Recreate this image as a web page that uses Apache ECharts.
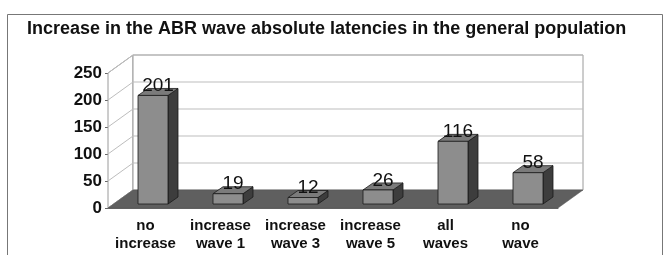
<!DOCTYPE html>
<html>
<head>
<meta charset="utf-8">
<script src="https://cdn.jsdelivr.net/npm/echarts@6/dist/echarts.min.js"></script>
<style>
  html, body { margin: 0; padding: 0; background: #fff; }
  #chart { width: 671px; height: 255px; }
</style>
</head>
<body>
<div id="chart"></div>
<script>
  // data
  var categories = ['no\nincrease', 'increase\nwave 1', 'increase\nwave 3', 'increase\nwave 5', 'all\nwaves', 'no\nwave'];
  var counts = [201, 19, 12, 26, 116, 58];
  var yTicks = [0, 50, 100, 150, 200, 250];

  // fake 3d depth
  var WALL = { x: 25, y: -18 };
  var BAR_OFF = { x: 7.5, y: -4 };
  var BAR_DEPTH = { x: 10, y: -7 };

  var chart = echarts.init(document.getElementById('chart'));

  function wallItem(params, api) {
    var cs = params.coordSys;
    var left = cs.x, right = cs.x + cs.width;
    var y = api.coord([0, api.value(1)])[1];
    var kids = [];
    if (params.dataIndex === 0) {
      var yTop = api.coord([0, yTicks[yTicks.length - 1]])[1];
      // side wall + back wall background
      kids.push({
        type: 'polygon',
        shape: { points: [[left, y], [left, yTop], [left + WALL.x, yTop + WALL.y], [left + WALL.x, y + WALL.y]] },
        style: { fill: '#fff', stroke: '#9a9a9a', lineWidth: 1 }
      });
      kids.push({
        type: 'rect',
        shape: { x: left + WALL.x, y: yTop + WALL.y, width: cs.width, height: y - yTop },
        style: { fill: '#fff', stroke: '#9a9a9a', lineWidth: 1 }
      });
    }
    kids.push({
      type: 'polyline',
      shape: { points: [[left, y], [left + WALL.x, y + WALL.y], [right + WALL.x, y + WALL.y]] },
      style: { fill: 'none', stroke: '#bdbdbd', lineWidth: 1 }
    });
    return { type: 'group', children: kids };
  }

  function floorItem(params, api) {
    var cs = params.coordSys;
    var left = cs.x, right = cs.x + cs.width;
    var y = api.coord([0, 0])[1];
    return {
      type: 'polygon',
      shape: { points: [[left, y], [right, y], [right + WALL.x, y + WALL.y], [left + WALL.x, y + WALL.y]] },
      style: { fill: '#5f5f5f', stroke: '#555', lineWidth: 0.5 }
    };
  }

  function barItem(params, api) {
    var i = api.value(0), v = api.value(1);
    var top = api.coord([i, v]);
    var base = api.coord([i, 0]);
    var w = api.size([1, 0])[0] * 0.4;
    var x0 = top[0] - w / 2 + BAR_OFF.x, x1 = x0 + w;
    var yt = top[1] + BAR_OFF.y, yb = base[1] + BAR_OFF.y;
    var dx = BAR_DEPTH.x, dy = BAR_DEPTH.y;
    var edge = { stroke: '#1a1a1a', lineWidth: 0.8 };
    return {
      type: 'group',
      children: [
        { type: 'polygon', shape: { points: [[x1, yt], [x1 + dx, yt + dy], [x1 + dx, yb + dy], [x1, yb]] },
          style: Object.assign({ fill: '#3d3d3d' }, edge) },
        { type: 'polygon', shape: { points: [[x0, yt], [x0 + dx, yt + dy], [x1 + dx, yt + dy], [x1, yt]] },
          style: Object.assign({ fill: '#7b7b7b' }, edge) },
        { type: 'rect', shape: { x: x0, y: yt, width: w, height: yb - yt },
          style: Object.assign({ fill: '#8d8d8d' }, edge) },
        { type: 'text', x: (x0 + x1) / 2 + dx / 2, y: yt,
          style: { text: String(v), fill: '#111', font: '19px "Liberation Sans", Arial, sans-serif',
                   align: 'center', verticalAlign: 'bottom' } }
      ]
    };
  }

  chart.setOption({
    backgroundColor: '#fff',
    animation: false,
    title: {
      text: 'Increase in the ABR wave absolute latencies in the general population',
      left: 22,
      top: 15,
      textStyle: { fontFamily: '"Liberation Sans", Arial', fontSize: 18, fontWeight: 'bold', color: '#111' }
    },
    graphic: [{
      type: 'rect',
      shape: { x: 7.5, y: 14.5, width: 655, height: 260 },
      style: { fill: 'none', stroke: '#777', lineWidth: 1 },
      z: 0
    }],
    grid: { left: 108, right: 113, top: 73, bottom: 47 },
    xAxis: {
      type: 'category',
      data: categories,
      axisLine: { lineStyle: { color: '#666' } },
      axisTick: { length: 4, lineStyle: { color: '#666' } },
      axisLabel: {
        margin: 9, color: '#111', fontFamily: '"Liberation Sans", Arial',
        fontSize: 15, fontWeight: 'bold', lineHeight: 18, interval: 0
      }
    },
    yAxis: {
      type: 'value',
      min: 0, max: 250, interval: 50,
      axisLine: { show: true, lineStyle: { color: '#666' } },
      axisTick: { show: true, length: 3, lineStyle: { color: '#666' } },
      splitLine: { show: false },
      axisLabel: { margin: 6, color: '#111', fontFamily: '"Liberation Sans", Arial', fontSize: 17, fontWeight: 'bold' }
    },
    series: [
      { type: 'custom', renderItem: wallItem, data: yTicks.map(function (t) { return [0, t]; }), z: 1, silent: true },
      { type: 'custom', renderItem: floorItem, data: [[0, 0]], z: 2, silent: true },
      { type: 'custom', renderItem: barItem, data: counts.map(function (c, i) { return [i, c]; }), z: 3 }
    ]
  });
</script>
</body>
</html>
